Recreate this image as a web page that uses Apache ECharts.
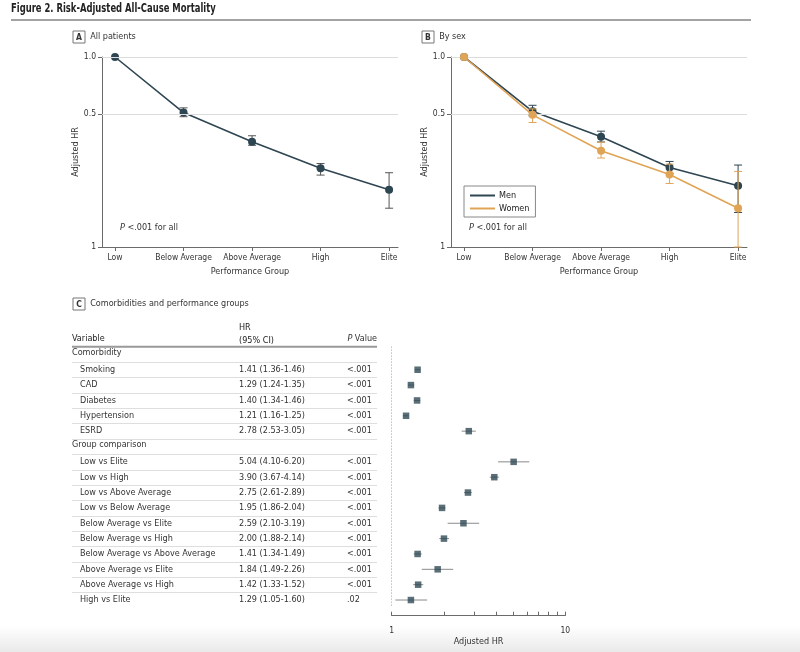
<!DOCTYPE html>
<html>
<head>
<meta charset="utf-8">
<script src="https://cdn.jsdelivr.net/npm/echarts@6/dist/echarts.min.js"></script>
<style>
  html, body { margin: 0; padding: 0; }
  body { background: linear-gradient(to bottom, #fff 0px, #fff 626px, #e9e9e9 652px); }
  #chart { width: 800px; height: 652px; }
</style>
</head>
<body>
<div id="chart"></div>
<script>
// performance groups (panels A and B)
var groups = ['Low', 'Below Average', 'Above Average', 'High', 'Elite']
var allHR = [1.0, 0.51, 0.358, 0.26, 0.2]
var allLo = [1.0, 0.485, 0.343, 0.239, 0.16]
var allHi = [1.0, 0.54, 0.385, 0.275, 0.246]
var menHR = [1.0, 0.518, 0.38, 0.262, 0.21]
var menLo = [1.0, 0.49, 0.357, 0.244, 0.152]
var menHi = [1.0, 0.557, 0.407, 0.282, 0.27]
var womenHR = [1.0, 0.496, 0.321, 0.241, 0.16]
var womenLo = [1.0, 0.452, 0.294, 0.216, 0.1]
var womenHi = [1.0, 0.533, 0.356, 0.273, 0.25]
var yTickVals = [0.1, 0.5, 1]
var yTickText = ['1', '0.5', '1.0']

// panel C table / forest plot
var rowNames = ['Comorbidity', 'Smoking', 'CAD', 'Diabetes', 'Hypertension', 'ESRD',
    'Group comparison', 'Low vs Elite', 'Low vs High', 'Low vs Above Average', 'Low vs Below Average',
    'Below Average vs Elite', 'Below Average vs High', 'Below Average vs Above Average',
    'Above Average vs Elite', 'Above Average vs High', 'High vs Elite']
var rowHR = [null, 1.41, 1.29, 1.40, 1.21, 2.78, null, 5.04, 3.90, 2.75, 1.95, 2.59, 2.00, 1.41, 1.84, 1.42, 1.29]
var rowLo = [null, 1.36, 1.24, 1.34, 1.16, 2.53, null, 4.10, 3.67, 2.61, 1.86, 2.10, 1.88, 1.34, 1.49, 1.33, 1.05]
var rowHi = [null, 1.46, 1.35, 1.46, 1.25, 3.05, null, 6.20, 4.14, 2.89, 2.04, 3.19, 2.14, 1.49, 2.26, 1.52, 1.60]
var rowP = [null, '<.001', '<.001', '<.001', '<.001', '<.001', null, '<.001', '<.001', '<.001', '<.001',
    '<.001', '<.001', '<.001', '<.001', '<.001', '.02']
var forestTicks = [1, 2, 3, 4, 5, 6, 7, 8, 9, 10]
var forestLabels = [1, 10]

var FONT = '"DejaVu Sans Condensed", "Liberation Sans", sans-serif'
var FS = 9
var DARK = '#2e4552'
var ORANGE = '#e0a456'
var AXIS = '#6a6a6a'
var TXT = '#333'

function errorBars(color, lo, hi) {
    return {
        type: 'custom',
        silent: true,
        z: 3,
        data: groups.map(function (g, i) { return [i, lo[i], hi[i]] }),
        renderItem: function (params, api) {
            var top = api.coord([api.value(0), api.value(2)])
            var bot = api.coord([api.value(0), api.value(1)])
            if (api.value(1) === api.value(2)) return
            var st = { stroke: color, lineWidth: 1 }
            return {
                type: 'group',
                children: [
                    { type: 'line', shape: { x1: top[0], y1: top[1], x2: bot[0], y2: bot[1] }, style: st },
                    { type: 'line', shape: { x1: top[0] - 4, y1: top[1], x2: top[0] + 4, y2: top[1] }, style: st },
                    { type: 'line', shape: { x1: bot[0] - 4, y1: bot[1], x2: bot[0] + 4, y2: bot[1] }, style: st }
                ]
            }
        }
    }
}

function perfX(gridIndex) {
    return {
        type: 'value', gridIndex: gridIndex, min: -0.19, max: 4.13,
        name: 'Performance Group', nameLocation: 'middle', nameGap: 20,
        nameTextStyle: { fontFamily: FONT, fontSize: FS, color: TXT },
        axisLine: { show: true, onZero: false, lineStyle: { color: AXIS } },
        axisTick: { show: true, customValues: [0, 1, 2, 3, 4], length: 4, lineStyle: { color: AXIS } },
        axisLabel: {
            customValues: [0, 1, 2, 3, 4], margin: 6, fontFamily: FONT, fontSize: 8.5, color: TXT,
            formatter: function (v) { return groups[Math.round(v)] }
        },
        splitLine: { show: false }
    }
}

function hrY(gridIndex) {
    return {
        type: 'log', gridIndex: gridIndex, min: 0.1, max: 1,
        name: 'Adjusted HR', nameLocation: 'middle', nameGap: 22,
        nameTextStyle: { fontFamily: FONT, fontSize: FS, color: TXT },
        axisLine: { show: true, onZero: false, lineStyle: { color: AXIS } },
        axisTick: { show: true, customValues: yTickVals, length: 4, lineStyle: { color: AXIS } },
        axisLabel: {
            customValues: yTickVals, margin: 6, fontFamily: FONT, fontSize: 8.5, color: TXT,
            formatter: function (v) {
                var k = yTickVals.findIndex(function (t) { return Math.abs(t - v) < 1e-6 })
                return k >= 0 ? yTickText[k] : ''
            }
        },
        splitLine: { show: false },
        minorTick: { show: false }
    }
}

var gridLines = {
    silent: true, symbol: 'none', label: { show: false },
    lineStyle: { color: '#dcdcdc', type: 'solid', width: 1 },
    data: [{ yAxis: 1 }, { yAxis: 0.5 }]
}

function panelTitle(letter, text, left, top) {
    return {
        text: '{b|' + letter + '}  ' + text,
        left: left, top: top, padding: 0,
        textStyle: {
            fontFamily: FONT, fontSize: FS, color: TXT, fontWeight: 'normal',
            rich: {
                b: { fontFamily: FONT, fontSize: 8.5, fontWeight: 'bold', color: '#333', borderColor: '#777',
                    borderWidth: 1, padding: [2, 3, 1, 3], width: 6, align: 'center' }
            }
        }
    }
}

function italicP(text, x, y, anchor) {
    return {
        type: 'text', x: x, y: y,
        style: {
            text: '{i|P}' + text, fontFamily: FONT, fontSize: FS, fill: TXT, align: anchor || 'left',
            rich: { i: { fontStyle: 'italic', fontFamily: FONT, fontSize: FS, fill: TXT } }
        }
    }
}

var idx = rowNames.map(function (n, i) { return i })
var forestPoints = []
var forestBars = []
rowHR.forEach(function (v, i) {
    if (v != null) {
        forestPoints.push([v, i])
        forestBars.push([rowLo[i], rowHi[i], i])
    }
})

var chart = echarts.init(document.getElementById('chart'))
chart.setOption({
    animation: false,
    textStyle: { fontFamily: FONT },
    title: [
        panelTitle('A', 'All patients', 73, 31),
        panelTitle('B', 'By sex', 422, 31),
        panelTitle('C', 'Comorbidities and performance groups', 73, 298)
    ],
    legend: {
        data: ['Men', 'Women'],
        orient: 'vertical', left: 464, top: 186,
        itemWidth: 25, itemHeight: 2, itemGap: 4, icon: 'rect',
        borderColor: '#888', borderWidth: 1, padding: [5, 6, 4, 6],
        textStyle: { fontFamily: FONT, fontSize: FS, color: '#222', padding: [0, 0, 0, -1] }
    },
    grid: [
        { left: 102, top: 57, width: 296, height: 190 },
        { left: 451, top: 57, width: 296, height: 190 },
        { left: 72, top: 346.7, width: 305, height: 261 },
        { left: 391.7, top: 346.7, width: 173.6, height: 261 }
    ],
    xAxis: [
        perfX(0),
        perfX(1),
        { type: 'value', gridIndex: 2, show: false },
        {
            type: 'log', gridIndex: 3, min: 1, max: 10, position: 'bottom', offset: 8,
            name: 'Adjusted HR', nameLocation: 'middle', nameGap: 21,
            nameTextStyle: { fontFamily: FONT, fontSize: FS, color: TXT },
            axisLine: { show: true, onZero: false, lineStyle: { color: AXIS } },
            axisTick: { show: true, inside: true, length: 4, customValues: forestTicks, lineStyle: { color: AXIS } },
            axisLabel: { customValues: forestLabels, margin: 11, fontFamily: FONT, fontSize: 8.5, color: TXT },
            splitLine: { show: false }, minorTick: { show: false }
        }
    ],
    yAxis: [
        hrY(0),
        hrY(1),
        {
            type: 'category', gridIndex: 2, inverse: true, data: rowNames,
            axisLine: { show: false }, axisTick: { show: false }, splitLine: { show: false },
            axisLabel: {
                interval: 0, align: 'left', margin: 0, fontFamily: FONT, fontSize: FS, color: TXT,
                formatter: function (name, i) {
                    if (rowHR[i] == null) return '{h|' + name + '}'
                    var ci = rowHR[i].toFixed(2) + ' (' + rowLo[i].toFixed(2) + '-' + rowHi[i].toFixed(2) + ')'
                    return '{n|' + name + '}{v|' + ci + '}{p|' + rowP[i] + '}'
                },
                rich: {
                    h: { fontFamily: FONT, fontSize: FS, color: '#333', padding: [0, 0, 3, 0] },
                    n: { fontFamily: FONT, fontSize: FS, color: '#333', width: 159, padding: [0, 0, 0, 8] },
                    v: { fontFamily: FONT, fontSize: FS, color: '#333', width: 108 },
                    p: { fontFamily: FONT, fontSize: FS, color: '#333' }
                }
            }
        },
        {
            type: 'category', gridIndex: 3, inverse: true, data: idx,
            axisLine: { show: true, lineStyle: { color: '#c8c8c8', type: [1, 2] } },
            axisTick: { show: false }, axisLabel: { show: false }, splitLine: { show: false }
        }
    ],
    series: [
        errorBars('#555', allLo, allHi),
        { type: 'line', name: 'All', xAxisIndex: 0, yAxisIndex: 0, z: 4,
          data: groups.map(function (g, i) { return [i, allHR[i]] }),
          symbol: 'circle', symbolSize: 8, lineStyle: { color: DARK, width: 1.6 },
          itemStyle: { color: DARK }, markLine: gridLines },
        Object.assign(errorBars(DARK, menLo, menHi), { xAxisIndex: 1, yAxisIndex: 1 }),
        { type: 'line', name: 'Men', xAxisIndex: 1, yAxisIndex: 1, z: 4,
          data: groups.map(function (g, i) { return [i, menHR[i]] }),
          symbol: 'circle', symbolSize: 8, lineStyle: { color: DARK, width: 1.6 },
          itemStyle: { color: DARK }, markLine: gridLines },
        Object.assign(errorBars(ORANGE, womenLo, womenHi), { xAxisIndex: 1, yAxisIndex: 1, z: 5 }),
        { type: 'line', name: 'Women', xAxisIndex: 1, yAxisIndex: 1, z: 6,
          data: groups.map(function (g, i) { return [i, womenHR[i]] }),
          symbol: 'circle', symbolSize: 8, lineStyle: { color: ORANGE, width: 1.6 },
          itemStyle: { color: ORANGE } },
        {
            // table row separators (below every row but the last)
            type: 'custom', xAxisIndex: 2, yAxisIndex: 2, silent: true,
            data: idx.slice(0, idx.length - 1).map(function (i) { return [0, i] }),
            renderItem: function (params, api) {
                var c = api.coord([0, api.value(1)])
                var h = api.size([0, 1])[1]
                var cs = params.coordSys
                var y = Math.round(c[1] + h / 2) + 0.5
                return { type: 'line', shape: { x1: cs.x, y1: y, x2: cs.x + cs.width, y2: y },
                         style: { stroke: '#dedede', lineWidth: 1 } }
            }
        },
        {
            type: 'custom', xAxisIndex: 3, yAxisIndex: 3, silent: true, data: forestBars,
            renderItem: function (params, api) {
                var a = api.coord([api.value(0), api.value(2)])
                var b = api.coord([api.value(1), api.value(2)])
                return { type: 'line', shape: { x1: a[0], y1: a[1], x2: b[0], y2: b[1] },
                         style: { stroke: '#8a8a8a', lineWidth: 1 } }
            }
        },
        { type: 'scatter', xAxisIndex: 3, yAxisIndex: 3, data: forestPoints, z: 4,
          symbol: 'rect', symbolSize: 6.5, itemStyle: { color: '#2f4a54' } }
    ],
    graphic: [
        { type: 'text', x: 11, y: 3, scaleX: 0.78,
          style: { text: 'Figure 2. Risk-Adjusted All-Cause Mortality', fontFamily: FONT, fontSize: 12,
                   fontWeight: 'bold', fill: '#222' } },
        { type: 'rect', left: 11, top: 19, shape: { width: 740, height: 2 }, style: { fill: '#a3a3a3' } },
        italicP(' <.001 for all', 120, 223),
        italicP(' <.001 for all', 469, 223),
        { type: 'text', x: 72, y: 334, style: { text: 'Variable', fontFamily: FONT, fontSize: FS, fill: '#222' } },
        { type: 'text', x: 239, y: 321, style: { text: 'HR\n(95% CI)', fontFamily: FONT, fontSize: FS, fill: '#222', lineHeight: 13 } },
        italicP(' Value', 377, 334, 'right'),
        { type: 'rect', left: 72, top: 345.7, shape: { width: 305, height: 2 }, style: { fill: '#999' }, z: 10 }
    ]
})
</script>
</body>
</html>
